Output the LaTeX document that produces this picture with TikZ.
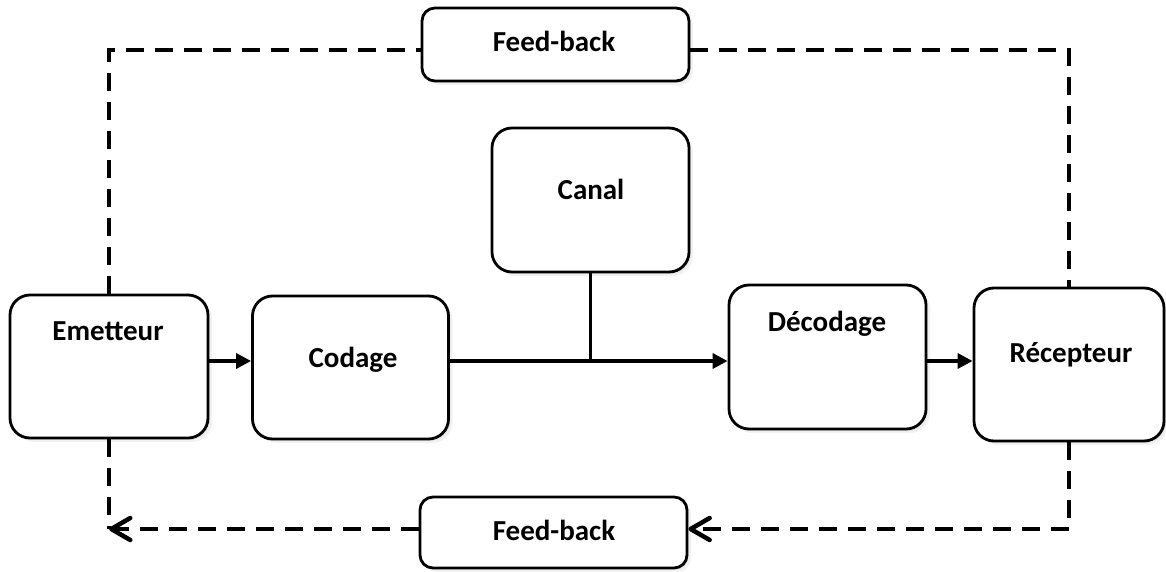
\documentclass[tikz,border=0pt]{standalone}
\usepackage{fontspec}
\setmainfont{Carlito}
\usetikzlibrary{arrows.meta,shadows}

\tikzset{
  box/.style={draw=black, line width=2.8pt, rounded corners=20pt, fill=white,
    inner sep=0pt,
    drop shadow={opacity=0.10, shadow xshift=4pt, shadow yshift=-4pt},
    drop shadow={opacity=0.10, shadow xshift=2pt, shadow yshift=-2pt}},
  fbbox/.style={box, rounded corners=13pt},
  lbl/.style={anchor=base, inner sep=0pt, font=\fontsize{29}{34}\selectfont\bfseries},
  flow/.style={line width=3.4pt, -{Triangle[length=15pt,width=15pt]}},
  link/.style={line width=3.4pt},
  fb/.style={line width=4.5pt, dash pattern=on 18pt off 11pt},
  fbarrow/.style={fb, -{Straight Barb[length=19pt,width=22pt,round]}}
}

\begin{document}
\begin{tikzpicture}[x=1pt, y=-1pt]
  \useasboundingbox (0,0) rectangle (1166,572);

  % blocks of the chain
  \node[box, minimum width=198pt, minimum height=143pt] (emet)   at (109,366.5) {};
  \node[box, minimum width=196pt, minimum height=143pt] (codage) at (350.5,367.5) {};
  \node[box, minimum width=197pt, minimum height=144pt] (canal)  at (590.5,200) {};
  \node[box, minimum width=197pt, minimum height=144pt] (decod)  at (827.5,357) {};
  \node[box, minimum width=190pt, minimum height=153pt] (recep)  at (1069,364.5) {};
  \node[fbbox, minimum width=267pt, minimum height=73pt] (fbtop) at (555.5,44.5) {};
  \node[fbbox, minimum width=267pt, minimum height=71pt] (fbbot) at (553.5,532.5) {};

  % labels
  \node[lbl] (temet)   at (108,340)  {Emetteur};
  \node[lbl] (tcodage) at (353,367)  {Codage};
  \node[lbl] (tcanal)  at (591,199)  {Canal};
  \node[lbl] (tdecod)  at (827,331)  {Décodage};
  \node[lbl] (trecep)  at (1071,362) {Récepteur};
  \node[lbl] (tfbtop)  at (554,52)   {Feed-back};
  \node[lbl] (tfbbot)  at (554,540)  {Feed-back};

  % main signal path
  \coordinate (j) at (canal.south |- 0,361);
  \draw[flow] (emet.east |- j) -- (codage.west |- j);
  \draw[flow] (codage.east |- j) -- (decod.west |- j);
  \draw[link] (canal.south) -- (j);
  \draw[flow] (decod.east |- j) -- (recep.west |- j);

  % feedback loops
  \coordinate (tl) at (emet.north |- 0,50);
  \coordinate (tr) at (recep.north |- 0,50);
  \coordinate (bl) at (emet.south |- 0,529);
  \coordinate (br) at (recep.south |- 0,529);
  \draw[fb] (emet.north) -- (tl) -- (fbtop.west |- tl);
  \draw[fb] (fbtop.east |- tr) -- (tr) -- (recep.north);
  \draw[fbarrow] (recep.south) -- (br) -- (fbbot.east |- br);
  \draw[fb] (emet.south) -- (bl);
  \draw[fbarrow] (fbbot.west |- bl) -- (bl);
\end{tikzpicture}
\end{document}
